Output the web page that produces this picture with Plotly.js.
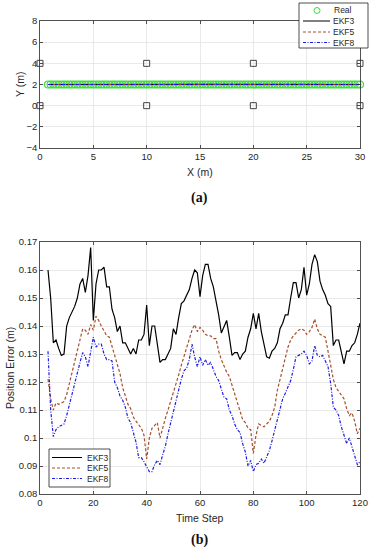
<!DOCTYPE html>
<html>
<head>
<meta charset="utf-8">
<script src="https://cdn.plot.ly/plotly-3.0.1.min.js"></script>
<style>html,body{margin:0;padding:0;background:#fff;}#chart{width:371px;height:550px;}</style>
</head>
<body>
<div id="chart"></div>
<script>
// ---------- Data: (a) trajectory ----------
const realX = [0.75,1,1.25,1.5,1.75,2,2.25,2.5,2.75,3,3.25,3.5,3.75,4,4.25,4.5,4.75,5,5.25,5.5,5.75,6,6.25,6.5,6.75,7,7.25,7.5,7.75,8,8.25,8.5,8.75,9,9.25,9.5,9.75,10,10.25,10.5,10.75,11,11.25,11.5,11.75,12,12.25,12.5,12.75,13,13.25,13.5,13.75,14,14.25,14.5,14.75,15,15.25,15.5,15.75,16,16.25,16.5,16.75,17,17.25,17.5,17.75,18,18.25,18.5,18.75,19,19.25,19.5,19.75,20,20.25,20.5,20.75,21,21.25,21.5,21.75,22,22.25,22.5,22.75,23,23.25,23.5,23.75,24,24.25,24.5,24.75,25,25.25,25.5,25.75,26,26.25,26.5,26.75,27,27.25,27.5,27.75,28,28.25,28.5,28.75,29,29.25,29.5,29.75,30];
const realY = [2,2,2,2,2,2,2,2,2,2,2,2,2,2,2,2,2,2,2,2,2,2,2,2,2,2,2,2,2,2,2,2,2,2,2,2,2,2,2,2,2,2,2,2,2,2,2,2,2,2,2,2,2,2,2,2,2,2,2,2,2,2,2,2,2,2,2,2,2,2,2,2,2,2,2,2,2,2,2,2,2,2,2,2,2,2,2,2,2,2,2,2,2,2,2,2,2,2,2,2,2,2,2,2,2,2,2,2,2,2,2,2,2,2,2,2,2,2];
const estX   = [0.75,3,6,9,12,15,18,21,24,27,30];
const ekf3Y  = [2.0,1.99,2.0,2.0,2.01,2.01,2.02,2.02,2.01,2.0,2.0];
const ekf5Y  = [2.0,2.0,1.99,2.0,2.0,2.01,2.02,2.03,2.02,2.01,2.0];
const ekf8Y  = [2.0,1.99,1.99,2.0,2.0,2.01,2.02,2.02,2.01,2.0,2.0];
const anchorX = [0,10,20,30,0,10,20,30];
const anchorY = [4,4,4,4,0,0,0,0];

// ---------- Data: (b) position error ----------
const steps = [3,4,5,6,7,8,9,10,11,12,13,14,15,16,17,18,19,20,21,22,23,24,25,26,27,28,29,30,31,32,33,34,35,36,37,38,39,40,41,42,43,44,45,46,47,48,49,50,51,52,53,54,55,56,57,58,59,60,61,62,63,64,65,66,67,68,69,70,71,72,73,74,75,76,77,78,79,80,81,82,83,84,85,86,87,88,89,90,91,92,93,94,95,96,97,98,99,100,101,102,103,104,105,106,107,108,109,110,111,112,113,114,115,116,117,118,119,120];
const ekf3Err = [0.160,0.150,0.134,0.135,0.132,0.1295,0.130,0.140,0.143,0.145,0.147,0.150,0.155,0.157,0.152,0.158,0.168,0.142,0.155,0.160,0.160,0.161,0.154,0.154,0.146,0.143,0.138,0.140,0.134,0.134,0.132,0.130,0.132,0.130,0.135,0.135,0.137,0.1475,0.133,0.140,0.140,0.134,0.127,0.128,0.128,0.130,0.132,0.139,0.137,0.143,0.148,0.149,0.151,0.153,0.157,0.160,0.159,0.1505,0.158,0.162,0.162,0.157,0.154,0.149,0.144,0.1375,0.140,0.142,0.136,0.1295,0.1305,0.1305,0.128,0.130,0.131,0.136,0.139,0.1445,0.139,0.1445,0.138,0.134,0.129,0.1285,0.131,0.132,0.134,0.139,0.141,0.144,0.144,0.150,0.1555,0.1555,0.150,0.153,0.161,0.151,0.155,0.162,0.1655,0.163,0.156,0.153,0.151,0.148,0.147,0.133,0.135,0.135,0.131,0.1265,0.131,0.131,0.133,0.134,0.137,0.141];
const ekf5Err = [0.121,0.114,0.110,0.1125,0.112,0.1125,0.113,0.1155,0.1195,0.123,0.127,0.131,0.1355,0.139,0.1385,0.137,0.1405,0.1385,0.1435,0.142,0.140,0.138,0.1365,0.136,0.1325,0.129,0.126,0.123,0.118,0.115,0.112,0.1105,0.1075,0.106,0.1045,0.1035,0.101,0.0925,0.100,0.1035,0.1045,0.1055,0.100,0.104,0.107,0.110,0.113,0.116,0.1195,0.1225,0.126,0.129,0.132,0.135,0.1385,0.1405,0.138,0.1395,0.1385,0.137,0.1365,0.1365,0.1355,0.1355,0.131,0.128,0.1255,0.1235,0.122,0.119,0.116,0.113,0.1095,0.1065,0.1055,0.1035,0.103,0.0945,0.101,0.105,0.1045,0.104,0.105,0.106,0.108,0.111,0.117,0.121,0.1255,0.129,0.1325,0.135,0.1365,0.1375,0.1385,0.139,0.1385,0.137,0.138,0.1395,0.1425,0.139,0.137,0.1365,0.136,0.131,0.126,0.121,0.118,0.1165,0.1155,0.114,0.1105,0.108,0.109,0.106,0.1015,0.1035];
const ekf8Err = [0.131,0.110,0.1005,0.103,0.104,0.1045,0.105,0.108,0.112,0.116,0.1195,0.123,0.127,0.1305,0.129,0.1255,0.1315,0.136,0.1325,0.1335,0.1335,0.130,0.128,0.128,0.1275,0.120,0.118,0.115,0.1135,0.111,0.107,0.1055,0.102,0.0985,0.093,0.093,0.0915,0.0895,0.088,0.088,0.0905,0.092,0.0905,0.094,0.097,0.1015,0.1055,0.1095,0.114,0.118,0.121,0.124,0.125,0.128,0.1335,0.129,0.1255,0.129,0.126,0.128,0.126,0.127,0.1245,0.122,0.1205,0.117,0.1145,0.114,0.110,0.108,0.105,0.103,0.102,0.098,0.095,0.090,0.092,0.088,0.0905,0.091,0.0925,0.091,0.0935,0.0955,0.099,0.1025,0.107,0.1105,0.114,0.116,0.118,0.1205,0.1245,0.129,0.1295,0.130,0.131,0.1295,0.1265,0.1275,0.133,0.1295,0.129,0.1295,0.1275,0.1255,0.1195,0.111,0.110,0.108,0.104,0.101,0.098,0.100,0.097,0.094,0.0905,0.0915];

const seriesNames = ['EKF3','EKF5','EKF8'];
const xTicksA = [0,5,10,15,20,25,30];
const yTicksA = [-4,-2,0,2,4,6,8];
const xTicksB = [0,20,40,60,80,100,120];
const yTicksB = [0.08,0.09,0.1,0.11,0.12,0.13,0.14,0.15,0.16,0.17];

// ---------- Styles ----------
const W = 371, H = 550;
const px = v => v / W;
const py = v => (H - v) / H;
const C3 = '#000000', C5 = '#a5502d', C8 = '#1c1ce0', CR = '#3fdc3f';
const DASH5 = '3px,2px', DASH8 = '3px,1.5px,1px,1.5px';
const FONT = 'Liberation Sans, Arial, sans-serif';
const TXT = '#262626';

const traces = [
  {x: realX, y: realY, type: 'scatter', mode: 'markers', xaxis: 'x', yaxis: 'y', cliponaxis: false,
   marker: {symbol: 'circle-open', size: 7, color: CR, line: {width: 1.2}}, name: 'Real'},
  {x: estX, y: ekf3Y, type: 'scatter', mode: 'lines', xaxis: 'x', yaxis: 'y', line: {color: C3, width: 1}, name: seriesNames[0]},
  {x: estX, y: ekf5Y, type: 'scatter', mode: 'lines', xaxis: 'x', yaxis: 'y', line: {color: C5, width: 1, dash: DASH5}, name: seriesNames[1]},
  {x: estX, y: ekf8Y, type: 'scatter', mode: 'lines', xaxis: 'x', yaxis: 'y', line: {color: C8, width: 1.2, dash: DASH8}, name: seriesNames[2]},
  {x: anchorX, y: anchorY, type: 'scatter', mode: 'markers', xaxis: 'x', yaxis: 'y', cliponaxis: false,
   marker: {symbol: 'square-open', size: 6, color: '#444', line: {width: 1}}, name: 'Anchor'},
  {x: steps, y: ekf3Err, type: 'scatter', mode: 'lines', xaxis: 'x2', yaxis: 'y2', line: {color: C3, width: 1.2}, name: seriesNames[0]},
  {x: steps, y: ekf5Err, type: 'scatter', mode: 'lines', xaxis: 'x2', yaxis: 'y2', line: {color: C5, width: 1.2, dash: DASH5}, name: seriesNames[1]},
  {x: steps, y: ekf8Err, type: 'scatter', mode: 'lines', xaxis: 'x2', yaxis: 'y2', line: {color: C8, width: 1.2, dash: DASH8}, name: seriesNames[2]}
];

const axBase = {
  showline: true, linecolor: TXT, linewidth: 0.8, mirror: 'ticks',
  ticks: 'inside', ticklen: 3, tickcolor: TXT, tickwidth: 0.8,
  showgrid: true, gridcolor: '#e3e3e3', gridwidth: 0.8, zeroline: false,
  tickfont: {family: FONT, size: 9.5, color: TXT}, fixedrange: true
};

const shapes = [];
const annotations = [];
function legendBox(x0, y0, x1, y1) {
  shapes.push({type: 'rect', xref: 'paper', yref: 'paper', x0: px(x0), x1: px(x1), y0: py(y0), y1: py(y1),
    line: {color: '#222', width: 0.8}, fillcolor: '#fff', layer: 'above'});
}
function legendLine(x0, x1, y, color, dash, width) {
  shapes.push({type: 'line', xref: 'paper', yref: 'paper', x0: px(x0), x1: px(x1), y0: py(y), y1: py(y),
    line: {color: color, width: width, dash: dash}, layer: 'above'});
}
function label(text, x, y, size, opts) {
  annotations.push(Object.assign({text: text, xref: 'paper', yref: 'paper', x: px(x), y: py(y),
    showarrow: false, xanchor: 'center', yanchor: 'middle',
    font: {family: FONT, size: size, color: TXT}}, opts || {}));
}

// Legend (a)
legendBox(299, 3, 368, 48);
shapes.push({type: 'circle', xref: 'paper', yref: 'paper', x0: px(314), x1: px(320), y0: py(13.5), y1: py(7.5),
  line: {color: CR, width: 1}, layer: 'above'});
label('Real', 332, 10.5, 8.5, {xanchor: 'left'});
legendLine(303, 330, 21, C3, 'solid', 1);
label(seriesNames[0], 331, 21, 8.5, {xanchor: 'left'});
legendLine(303, 330, 32, C5, DASH5, 1);
label(seriesNames[1], 331, 32, 8.5, {xanchor: 'left'});
legendLine(303, 330, 42.5, C8, DASH8, 1.2);
label(seriesNames[2], 331, 42.5, 8.5, {xanchor: 'left'});

// Legend (b)
legendBox(49, 449, 110, 487);
legendLine(52, 82, 457.5, C3, 'solid', 1);
label(seriesNames[0], 85, 457.5, 8.5, {xanchor: 'left'});
legendLine(52, 82, 468, C5, DASH5, 1.2);
label(seriesNames[1], 85, 468, 8.5, {xanchor: 'left'});
legendLine(52, 82, 478.5, C8, DASH8, 1.2);
label(seriesNames[2], 85, 478.5, 8.5, {xanchor: 'left'});

// Axis titles and panel labels
label('X (m)', 200, 172, 10.5);
label('Y (m)', 20, 85, 10.5, {textangle: -90});
label('Time Step', 200, 518, 10.5);
label('Position Error (m)', 10, 368, 10.5, {textangle: -90});
label('<b>(a)</b>', 200, 198, 14, {font: {family: 'Liberation Serif, serif', size: 14, color: '#111'}});
label('<b>(b)</b>', 200, 540, 14, {font: {family: 'Liberation Serif, serif', size: 14, color: '#111'}});

const layout = {
  width: W, height: H,
  margin: {l: 0, r: 0, t: 0, b: 0},
  paper_bgcolor: '#fff', plot_bgcolor: '#fff',
  showlegend: false,
  xaxis: Object.assign({}, axBase, {domain: [px(40), px(360)], range: [0, 30], tickvals: xTicksA, anchor: 'y'}),
  yaxis: Object.assign({}, axBase, {domain: [py(148), py(21)], range: [-4, 8], tickvals: yTicksA, anchor: 'x'}),
  xaxis2: Object.assign({}, axBase, {domain: [px(40), px(360)], range: [0, 120], tickvals: xTicksB, anchor: 'y2'}),
  yaxis2: Object.assign({}, axBase, {domain: [py(494), py(242)], range: [0.08, 0.17], tickvals: yTicksB, anchor: 'x2'}),
  shapes: shapes,
  annotations: annotations
};

Plotly.newPlot('chart', traces, layout, {displayModeBar: false, staticPlot: true});
</script>
</body>
</html>
